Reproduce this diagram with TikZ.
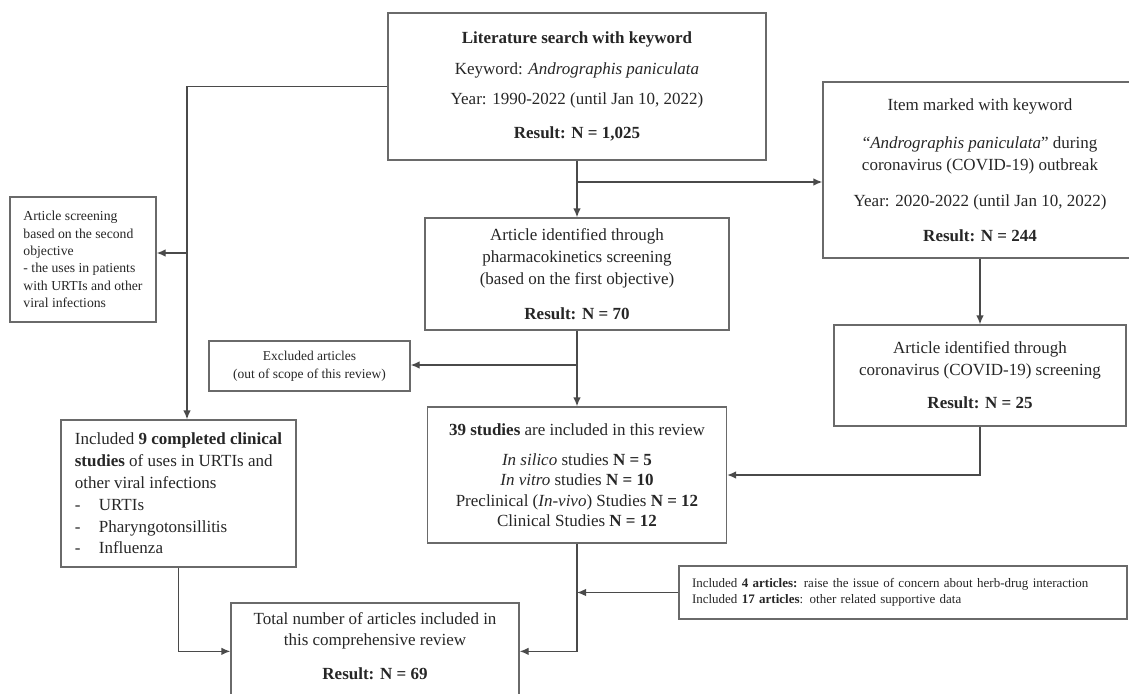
\documentclass[tikz,border=0pt]{standalone}
\usepackage{fontspec}
\setmainfont{Liberation Serif}
\usetikzlibrary{arrows.meta,calc}
\definecolor{boxcol}{HTML}{6A6A6A}
\definecolor{linecol}{HTML}{4A4A4A}
\definecolor{txtcol}{HTML}{262626}
\tikzset{
  box/.style={draw=boxcol, line width=1.3pt, rectangle, inner sep=0pt, text=txtcol, align=center},
  leftbox/.style={box, align=left},
  plaintext/.style={inner sep=0pt, text=txtcol, align=center},
  big/.style={font=\fontsize{17}{22}\selectfont},
  mid/.style={font=\fontsize{13.7}{17.3}\selectfont},
  small/.style={font=\fontsize{13.5}{18}\selectfont},
  tiny/.style={font=\fontsize{13}{16}\selectfont},
  arr/.style={draw=linecol, line width=1.3pt, -{Latex[length=9pt,width=7.5pt]}},
}
\begin{document}
\begin{tikzpicture}[x=1pt,y=-1pt]
\useasboundingbox (0,0) rectangle (1129,693);

\node[box,big,minimum width=378pt,minimum height=147pt] (lit) at (577,86.5)
 {\textbf{Literature search with keyword}\\[9pt]Keyword: \textit{Andrographis paniculata}\\[8pt]Year: 1990-2022 (until Jan 10, 2022)\\[12pt]\textbf{Result: N = 1,025}};

\node[box,big,minimum width=304pt,minimum height=112pt] (pharma) at (577,274)
 {Article identified through\\pharmacokinetics screening\\(based on the first objective)\\[13pt]\textbf{Result: N = 70}};

\node[box,big,minimum width=314pt,minimum height=176pt] (item) at (980,170)
 {Item marked with keyword\\[16pt]“\textit{Andrographis paniculata}” during\\coronavirus (COVID-19) outbreak\\[14pt]Year: 2020-2022 (until Jan 10, 2022)\\[13pt]\textbf{Result: N = 244}};

\node[box,big,minimum width=292pt,minimum height=101pt] (covid) at (980,375.5)
 {Article identified through\\coronavirus (COVID-19) screening\\[11pt]\textbf{Result: N = 25}};

\node[leftbox,mid,minimum width=146pt,minimum height=125pt] (screen) at (83,259.5)
 {Article screening\\based on the second\\objective\\- the uses in patients\\with URTIs and other\\viral infections};

\node[box,small,minimum width=201pt,minimum height=50pt] (excl) at (309.5,366)
 {Excluded articles\\(out of scope of this review)};

\node[leftbox,font=\fontsize{17}{21.8}\selectfont,minimum width=235pt,minimum height=147pt] (incl9) at (178.5,493.5)
 {Included \textbf{9 completed clinical}\\\textbf{studies} of uses in URTIs and\\other viral infections\\\makebox[24pt][l]{-}URTIs\\\makebox[24pt][l]{-}Pharyngotonsillitis\\\makebox[24pt][l]{-}Influenza};

\node[box,font=\fontsize{17}{20.5}\selectfont,minimum width=299pt,minimum height=136pt] (studies) at (577,475)
 {\textbf{39 studies} are included in this review\\[9.5pt]\textit{In silico} studies \textbf{N = 5}\\\textit{In vitro} studies \textbf{N = 10}\\Preclinical (\textit{In-vivo}) Studies \textbf{N = 12}\\Clinical Studies \textbf{N = 12}};

\node[leftbox,tiny,text width=422pt,inner xsep=13pt,minimum height=53pt] (incl4) at (903,592.5)
 {Included \textbf{4 articles:} raise the issue of concern about herb-drug interaction\\Included \textbf{17 articles}: other related supportive data};

\node[box,minimum width=288pt,minimum height=120pt] (total) at (375,663) {};
\node[plaintext,font=\fontsize{17}{21}\selectfont] (totaltxt) at (375,646)
 {Total number of articles included in\\this comprehensive review\\[13pt]\textbf{Result: N = 69}};

% helper coordinates
\coordinate (lx) at (187,0);
\coordinate (j1) at (577,182);
\coordinate (j2) at (187,253);
\coordinate (j3) at (577,365);
\coordinate (tw) at ($(total.north west)+(0,49)$);
\coordinate (te) at ($(total.north east)+(0,49)$);

% connectors
\draw[arr] (lit.south) -- (pharma.north);
\draw[arr] (j1) -- (j1 -| item.west);
\draw[arr] (lit.west) -| (incl9.north -| lx);
\draw[arr] (j2) -- (j2 -| screen.east);
\draw[arr] (pharma.south) -- (studies.north);
\draw[arr] (j3) -- (j3 -| excl.east);
\draw[arr] (item.south) -- (covid.north);
\draw[arr] (covid.south) |- (studies.east);
\draw[arr] (studies.south) |- (te);
\draw[arr] (incl4.west) -- (incl4.west -| studies.south);
\draw[arr] (incl9.south) |- (tw);
\end{tikzpicture}
\end{document}
